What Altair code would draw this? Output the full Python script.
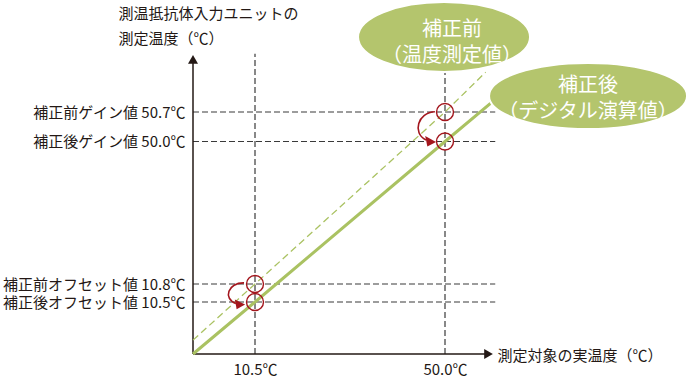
import altair as alt
import pandas as pd

# ---------------- data ----------------
x_ticks = [10.5, 50.0]                       # actual temperatures marked on the x axis
y_ticks = [50.7, 50.0, 10.8, 10.5]           # measured temperatures marked on the y axis
y_names = ["補正前ゲイン値", "補正後ゲイン値", "補正前オフセット値", "補正後オフセット値"]

after_x = [0.0, 10.5, 50.0, 63.0]            # corrected (digital computed) line
after_y = [0.0, 10.5, 50.0, 54.4]
before_x = [0.0, 10.5, 50.0, 58.5]           # before correction (measured) line
before_y = [2.8, 10.8, 50.7, 57.2]

circle_x = [10.5, 10.5, 50.0, 50.0]
circle_y = [10.8, 10.5, 50.7, 50.0]

arrow_x = [10.5, 50.0]                       # correction arrows (from before -> after)
arrow_y = [10.65, 50.35]

callout_lines = ["補正前\n（温度測定値）", "補正後\n（デジタル演算値）"]
callout_x = [49.8, 79.9]
callout_y = [62.94, 53.31]

x_title = "測定対象の実温度（℃）"
y_title = ["測温抵抗体入力ユニットの", "測定温度（℃）"]

# ---------------- style ----------------
FONT = "Noto Sans CJK JP"
INK = "#231815"
DASH = "#3a3a3a"
GREEN = "#aac262"
FILL = "#b4c56d"
RED = "#a3161d"

xs = alt.Scale(type="linear", domain=[0, 10.5, 50, 82], range=[0, 62, 252, 405.1],
               nice=False, zero=False)
ys = alt.Scale(type="linear", domain=[0, 10.5, 10.8, 50, 50.7, 64],
               range=[314, 262, 244, 101.5, 72, -9.5], nice=False, zero=False)

y_expr = "''"
for v, n in reversed(list(zip(y_ticks, y_names))):
    y_expr = f"datum.value == {v} ? '{n} {v:.1f}℃' : ({y_expr})"

xaxis = alt.Axis(values=x_ticks, labelExpr="format(datum.value, '.1f') + '℃'",
                 domain=False, ticks=False, tickSize=0, grid=False,
                 labelFont=FONT, labelFontSize=15, labelColor=INK, labelPadding=8,
                 labelFlush=False, labelOverlap=False, labelLimit=0,
                 title=x_title, titleX=304, titleY=1, titleAlign="left",
                 titleBaseline="middle", titleAngle=0, titleFont=FONT, titleFontSize=15,
                 titleFontWeight="normal", titleColor=INK, titleLimit=0)
yaxis = alt.Axis(values=y_ticks, labelExpr=y_expr,
                 domain=False, ticks=False, tickSize=0, grid=False,
                 labelFont=FONT, labelFontSize=15, labelColor=INK, labelPadding=8,
                 labelFlush=False, labelOverlap=False, labelLimit=0,
                 title=y_title, titleX=-75, titleY=-21.5, titleAlign="left",
                 titleBaseline="alphabetic", titleAngle=0, titleLineHeight=25,
                 titleFont=FONT, titleFontSize=15, titleFontWeight="normal", titleColor=INK,
                 titleLimit=0)


def X(f):
    return alt.X(f, type="quantitative", scale=xs, axis=xaxis)


def Y(f):
    return alt.Y(f, type="quantitative", scale=ys, axis=yaxis)


def ellipse_path(k):
    c = 0.5523
    return (f"M-1,0 C-1,{-k*c:.4f} {-c},{-k:.4f} 0,{-k:.4f} "
            f"C{c},{-k:.4f} 1,{-k*c:.4f} 1,0 "
            f"C1,{k*c:.4f} {c},{k:.4f} 0,{k:.4f} "
            f"C{-c},{k:.4f} -1,{k*c:.4f} -1,0 Z")


arc_paths = ["M0.39,-0.56 C-0.5,-0.58 -0.8,0.3 -0.06,0.58",
             "M0.44,-0.83 C-0.5,-0.8 -0.85,0.35 -0.05,0.74"]
head_paths = ["M0.45,0.64 L-0.12,0.36 L-0.02,0.9 Z",
              "M0.5,0.85 L-0.1,0.52 L0.02,1.1 Z"]
# (path, size, text dx, text dy)
ellipse_shapes = [(ellipse_path(35 / 86), 172 ** 2, 8, -7),
                  (ellipse_path(33 / 99), 198 ** 2, 0, -10)]

# ---------------- layers ----------------
rules_v = pd.DataFrame({"x": x_ticks, "y0": 0.0, "y1": 60.2})
rules_h = pd.DataFrame({"y": y_ticks, "x0": 0.0, "x1": 60.5})

vert = alt.Chart(rules_v).mark_rule(color=DASH, strokeWidth=1.2, strokeDash=[6, 3]).encode(
    x=X("x"), y=Y("y0"), y2="y1")
horiz = alt.Chart(rules_h).mark_rule(color=DASH, strokeWidth=1.2, strokeDash=[6, 3]).encode(
    y=Y("y"), x=X("x0"), x2="x1")

xline = alt.Chart(pd.DataFrame({"x0": [0.0], "x1": [59.5], "y": [0.0]})).mark_rule(
    color=INK, strokeWidth=1.5).encode(x=X("x0"), x2="x1", y=Y("y"))
yline = alt.Chart(pd.DataFrame({"y0": [0.0], "y1": [59.5], "x": [0.0]})).mark_rule(
    color=INK, strokeWidth=1.5).encode(y=Y("y0"), y2="y1", x=X("x"))
xtip = alt.Chart(pd.DataFrame({"x": [60.0], "y": [0.0]})).mark_point(
    shape="triangle-right", filled=True, size=100, color=INK, opacity=1, xOffset=-4.3).encode(
    x=X("x"), y=Y("y"))
ytip = alt.Chart(pd.DataFrame({"x": [0.0], "y": [60.0]})).mark_point(
    shape="triangle-up", filled=True, size=100, color=INK, opacity=1, yOffset=4.3).encode(
    x=X("x"), y=Y("y"))

before = alt.Chart(pd.DataFrame({"x": before_x, "y": before_y})).mark_line(
    color=GREEN, strokeWidth=1.3, strokeDash=[7, 4]).encode(x=X("x"), y=Y("y"))
after = alt.Chart(pd.DataFrame({"x": after_x, "y": after_y})).mark_line(
    color=GREEN, strokeWidth=3).encode(x=X("x"), y=Y("y"))

circles = alt.Chart(pd.DataFrame({"x": circle_x, "y": circle_y})).mark_point(
    shape="circle", filled=False, size=289, stroke=RED, strokeWidth=1.4, opacity=1).encode(
    x=X("x"), y=Y("y"))

arrow_df = pd.DataFrame({"x": arrow_x, "y": arrow_y, "arc": arc_paths, "head": head_paths})
arcs = alt.Chart(arrow_df).mark_point(
    filled=False, size=1296, stroke=RED, strokeWidth=1.6, opacity=1, xOffset=-18).encode(
    x=X("x"), y=Y("y"), shape=alt.Shape("arc:N", scale=None, legend=None))
heads = alt.Chart(arrow_df).mark_point(
    filled=True, size=1296, color=RED, opacity=1, xOffset=-18).encode(
    x=X("x"), y=Y("y"), shape=alt.Shape("head:N", scale=None, legend=None))

layers = [vert, horiz, xline, yline, xtip, ytip, before, after, circles, arcs, heads]

for (path, size, tdx, tdy), txt, cx, cy in zip(ellipse_shapes, callout_lines, callout_x, callout_y):
    cdf = pd.DataFrame({"x": [cx], "y": [cy], "t": [txt]})
    layers.append(alt.Chart(cdf).mark_point(
        shape=path, filled=True, size=size, fill=FILL, stroke="white", strokeWidth=2,
        opacity=1).encode(x=X("x"), y=Y("y")))
    layers.append(alt.Chart(cdf).mark_text(
        font=FONT, fontSize=20, color="white", lineBreak="\n", lineHeight=26,
        align="center", baseline="middle", dx=tdx, dy=tdy).encode(
        x=X("x"), y=Y("y"), text="t:N"))

chart = alt.layer(*layers).properties(
    width=300, height=314,
    autosize=alt.AutoSizeParams(type="none"),
    padding={"left": 193, "top": 40, "right": 197, "bottom": 26},
    background="white",
).configure_view(strokeWidth=0)

chart.save("out.html", embed_options={"renderer": "svg", "actions": False})
